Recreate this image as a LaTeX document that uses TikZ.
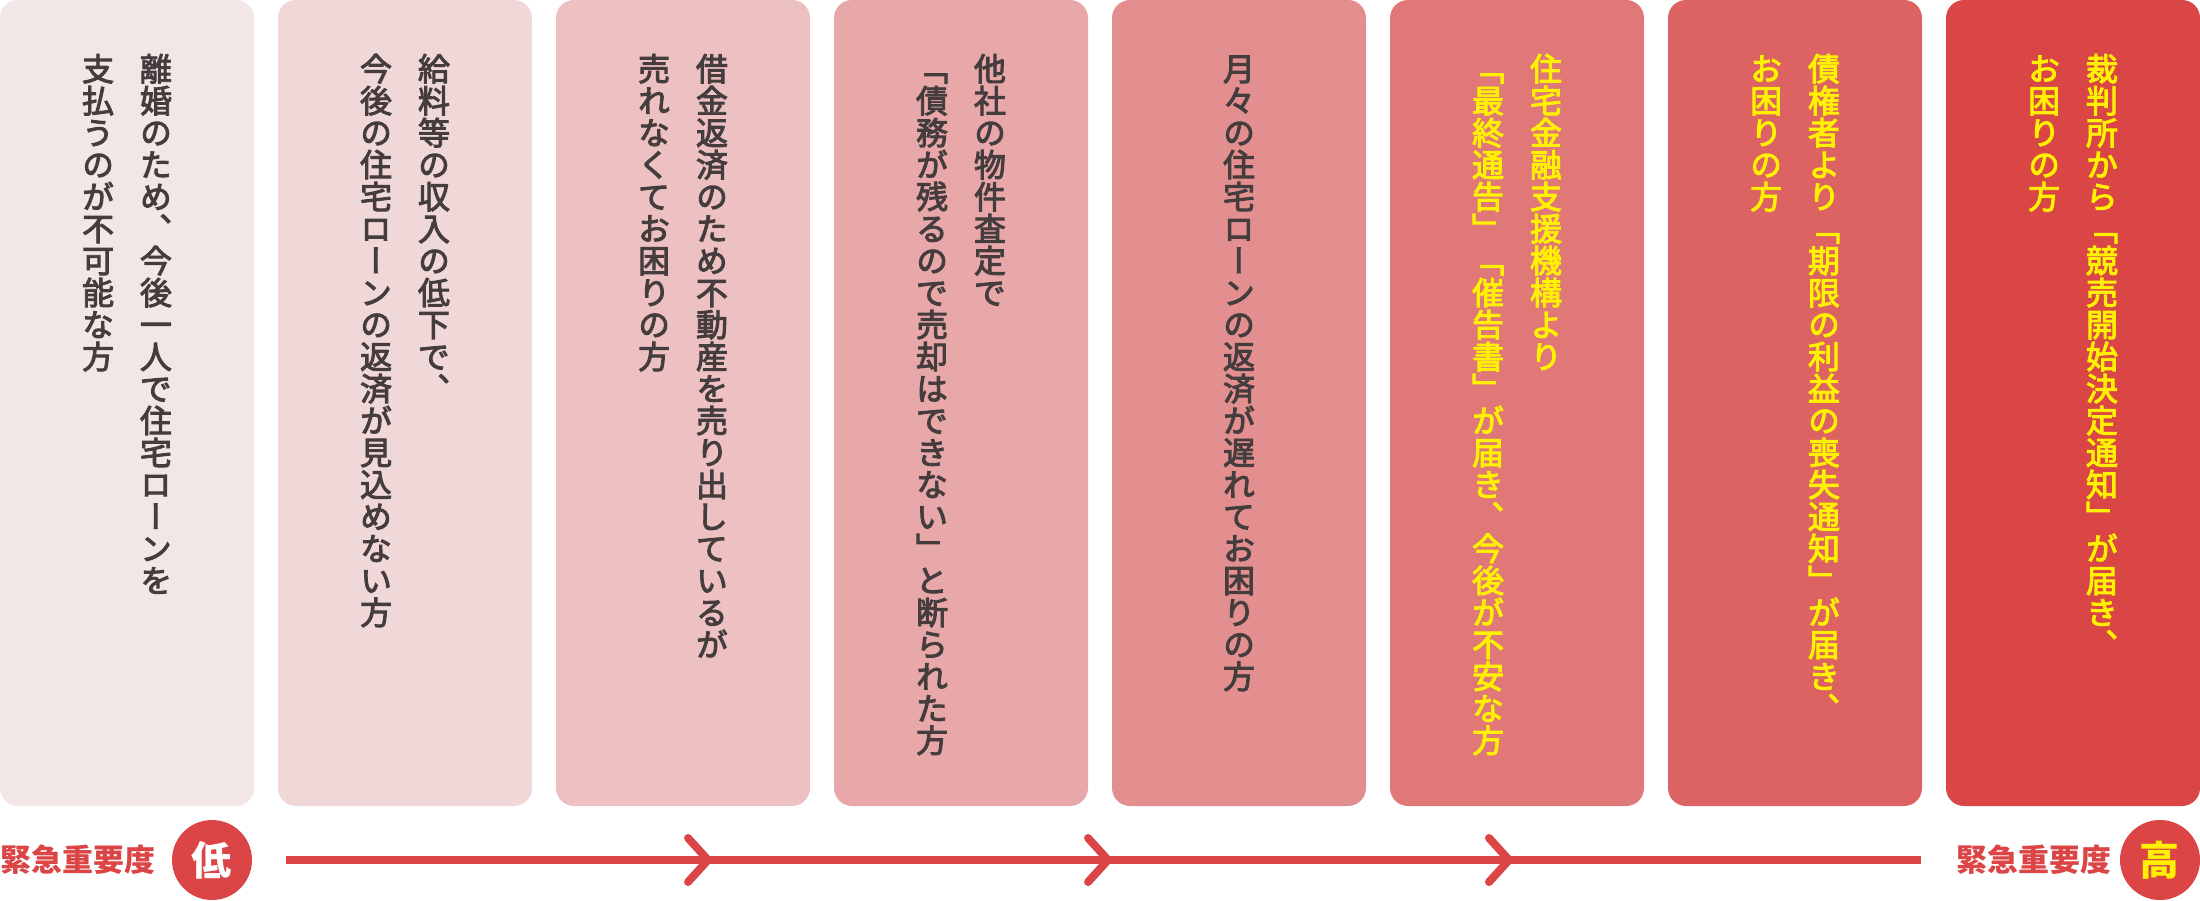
\documentclass[tikz,border=0pt]{standalone}
\usepackage{fontspec}
\newfontfamily\jpfont{Noto Sans CJK JP}
\newfontfamily\vfont[RawFeature=+vert,FakeBold=3]{Noto Sans CJK JP}
\usepackage{tikz}
\definecolor{cardA}{HTML}{F2E6E7}
\definecolor{cardB}{HTML}{F0D7D8}
\definecolor{cardC}{HTML}{EDC0C1}
\definecolor{cardD}{HTML}{E8A8A9}
\definecolor{cardE}{HTML}{E48F8F}
\definecolor{cardF}{HTML}{E07878}
\definecolor{cardG}{HTML}{DD6262}
\definecolor{cardH}{HTML}{DA4646}
\definecolor{urgred}{HTML}{DB4546}
\definecolor{ink}{HTML}{453D3D}
\definecolor{hiyellow}{HTML}{FFF100}
% one column of upright characters, one em each
\makeatletter
\newcommand\tatecol[1]{\vtop{\offinterlineskip\tate@next#1\@nil}}
\def\tate@next#1{\ifx#1\@nil\else\tate@char{#1}\expandafter\tate@next\fi}
\def\tate@char#1{\hbox to 1em{\hss\vrule height .88em depth .12em width 0pt#1\hss}}
\makeatother
\newcommand\tatepair[2]{\tatecol{#2}\hskip.81em\tatecol{#1}}
\tikzset{
  card/.style={rectangle, rounded corners=0.18cm, minimum width=2.54cm, minimum height=8.06cm, inner sep=0pt},
  tate/.style={anchor=north, inner sep=0pt, font=\vfont\fontsize{9.1}{11}\selectfont},
  lvl/.style={inner sep=0pt, text=urgred, font=\jpfont\bfseries\fontsize{8.8}{10}\selectfont},
  badge/.style={circle, fill=urgred, minimum size=0.8cm, inner sep=0pt,
    font=\jpfont\bfseries\fontsize{11.4}{12}\selectfont},
  urgline/.style={urgred, line width=0.08cm},
  chev/.style={urgred, line width=0.08cm, line cap=round, line join=miter}
}
\begin{document}
\begin{tikzpicture}
\useasboundingbox (0,0) rectangle (22,9);
\node[card, fill=cardA] (card1) at (1.27,4.97) {};
\node[card, fill=cardB] (card2) at (4.05,4.97) {};
\node[card, fill=cardC] (card3) at (6.83,4.97) {};
\node[card, fill=cardD] (card4) at (9.61,4.97) {};
\node[card, fill=cardE] (card5) at (12.39,4.97) {};
\node[card, fill=cardF] (card6) at (15.17,4.97) {};
\node[card, fill=cardG] (card7) at (17.95,4.97) {};
\node[card, fill=cardH] (card8) at (20.73,4.97) {};
\node[tate, text=ink] (txt1) at (1.27,8.48) {\tatepair{離婚のため、今後一人で住宅ローンを}{支払うのが不可能な方}};
\node[tate, text=ink] (txt2) at (4.05,8.48) {\tatepair{給料等の収入の低下で、}{今後の住宅ローンの返済が見込めない方}};
\node[tate, text=ink] (txt3) at (6.83,8.48) {\tatepair{借金返済のため不動産を売り出しているが}{売れなくてお困りの方}};
\node[tate, text=ink] (txt4) at (9.61,8.48) {\tatepair{他社の物件査定で}{「債務が残るので売却はできない」と断られた方}};
\node[tate, text=ink] (txt5) at (12.39,8.48) {\tatecol{月々の住宅ローンの返済が遅れてお困りの方}};
\node[tate, text=hiyellow] (txt6) at (15.17,8.48) {\tatepair{住宅金融支援機構より}{「最終通告」「催告書」が届き、今後が不安な方}};
\node[tate, text=hiyellow] (txt7) at (17.95,8.48) {\tatepair{債権者より「期限の利益の喪失通知」が届き、}{お困りの方}};
\node[tate, text=hiyellow] (txt8) at (20.73,8.48) {\tatepair{裁判所から「競売開始決定通知」が届き、}{お困りの方}};
\node[lvl, anchor=west] (lowtxt) at (0,0.40) {緊急重要度};
\node[badge, text=white] (low) at (2.12,0.40) {低};
\node[badge, text=hiyellow] (high) at (21.60,0.40) {高};
\node[lvl, anchor=east] (hightxt) at (21.12,0.40) {緊急重要度};
\draw[urgline, shorten <=0.33cm, shorten >=0.35cm] (low.east) -- (low.east -| hightxt.west);
\draw[chev] (6.88,0.62) -- (7.08,0.40) -- (6.88,0.18);
\draw[chev] (10.88,0.62) -- (11.08,0.40) -- (10.88,0.18);
\draw[chev] (14.89,0.62) -- (15.09,0.40) -- (14.89,0.18);
\end{tikzpicture}
\end{document}
